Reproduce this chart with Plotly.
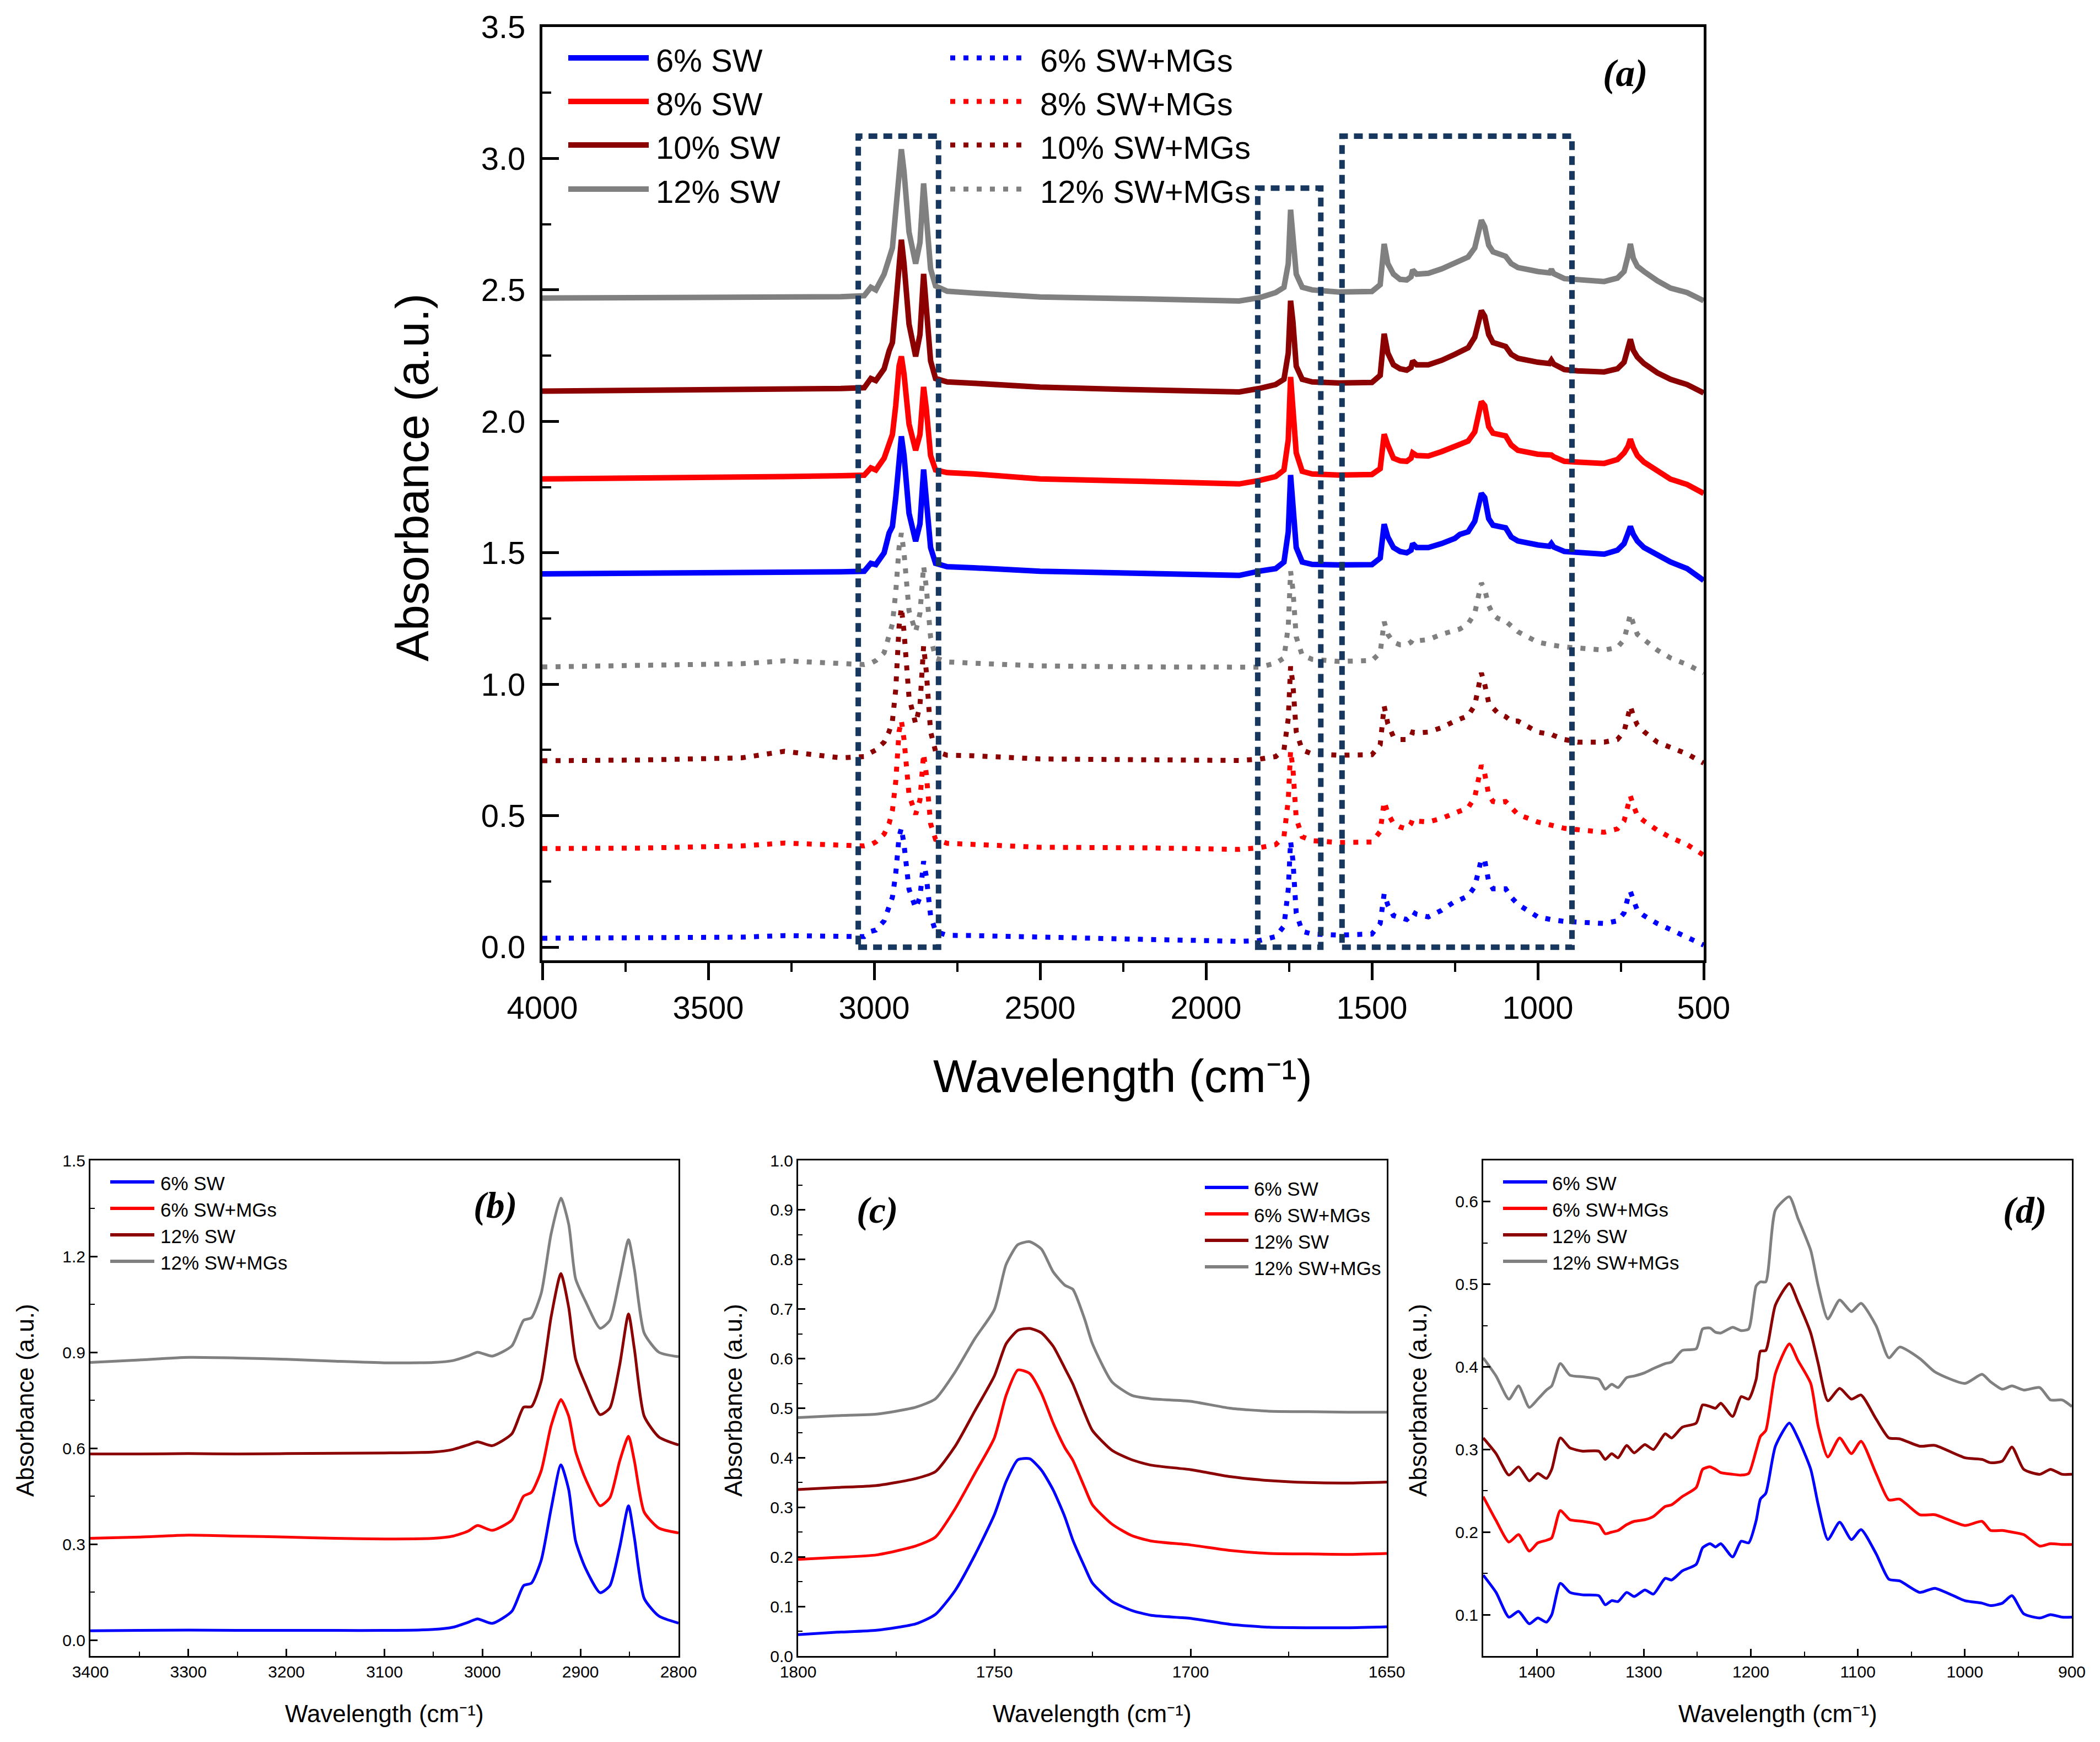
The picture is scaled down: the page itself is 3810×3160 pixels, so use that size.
import plotly.graph_objects as go

# ---------------- data: panel (a) full spectra ----------------
WN_A = [4000, 3700, 3400, 3270, 3100, 3030, 3010, 2995, 2970, 2955,
        2945, 2935, 2925, 2918, 2910, 2895, 2875, 2862, 2851, 2843,
        2830, 2815, 2780, 2700, 2500, 2200, 2000, 1900, 1840, 1790,
        1765, 1752, 1745, 1738, 1728, 1710, 1680, 1600, 1500, 1475,
        1463, 1452, 1435, 1415, 1395, 1382, 1377, 1365, 1330, 1290,
        1250, 1235, 1210, 1190, 1178, 1170, 1160, 1148, 1135, 1120,
        1097, 1080, 1060, 1000, 965, 959, 952, 920, 880, 800,
        760, 740, 728, 721, 712, 700, 680, 640, 600, 550,
        500]

SW12_A = [2.469, 2.470, 2.471, 2.473, 2.474, 2.478, 2.510, 2.500, 2.560, 2.620,
          2.660, 2.800, 2.980, 3.035, 2.950, 2.720, 2.600, 2.680, 2.905, 2.800,
          2.580, 2.515, 2.495, 2.488, 2.473, 2.466, 2.459, 2.458, 2.470, 2.490,
          2.510, 2.600, 2.805, 2.720, 2.560, 2.510, 2.500, 2.492, 2.494, 2.520,
          2.675, 2.600, 2.560, 2.540, 2.538, 2.550, 2.576, 2.560, 2.563, 2.580,
          2.605, 2.615, 2.625, 2.660, 2.730, 2.765, 2.740, 2.670, 2.645, 2.640,
          2.628, 2.600, 2.585, 2.570, 2.565, 2.578, 2.562, 2.543, 2.538, 2.532,
          2.545, 2.570, 2.630, 2.675, 2.620, 2.590, 2.570, 2.535, 2.507, 2.490,
          2.459]
SW10_A = [2.115, 2.117, 2.120, 2.122, 2.125, 2.128, 2.163, 2.155, 2.200, 2.268,
          2.300, 2.440, 2.630, 2.691, 2.600, 2.370, 2.247, 2.330, 2.561, 2.450,
          2.230, 2.163, 2.150, 2.145, 2.130, 2.120, 2.115, 2.112, 2.125, 2.140,
          2.160, 2.260, 2.459, 2.380, 2.210, 2.160, 2.150, 2.146, 2.148, 2.175,
          2.333, 2.260, 2.215, 2.200, 2.195, 2.205, 2.230, 2.215, 2.215, 2.232,
          2.255, 2.265, 2.280, 2.320, 2.390, 2.421, 2.400, 2.330, 2.300, 2.295,
          2.285, 2.255, 2.240, 2.225, 2.220, 2.232, 2.218, 2.197, 2.192, 2.188,
          2.200, 2.225, 2.280, 2.312, 2.270, 2.245, 2.220, 2.185, 2.160, 2.140,
          2.108]
SW8_A = [1.781, 1.783, 1.787, 1.790, 1.793, 1.795, 1.823, 1.815, 1.860, 1.920,
         1.950, 2.060, 2.210, 2.247, 2.180, 1.990, 1.890, 1.950, 2.131, 2.050,
         1.870, 1.815, 1.805, 1.800, 1.781, 1.772, 1.764, 1.762, 1.775, 1.790,
         1.815, 1.930, 2.169, 2.070, 1.880, 1.810, 1.800, 1.796, 1.798, 1.820,
         1.951, 1.910, 1.860, 1.850, 1.848, 1.860, 1.880, 1.870, 1.868, 1.885,
         1.905, 1.915, 1.925, 1.960, 2.040, 2.075, 2.060, 1.980, 1.955, 1.950,
         1.945, 1.910, 1.890, 1.875, 1.870, 1.872, 1.865, 1.848, 1.845, 1.840,
         1.855, 1.880, 1.905, 1.932, 1.900, 1.870, 1.845, 1.810, 1.780, 1.760,
         1.726]
SW6_A = [1.420, 1.421, 1.423, 1.425, 1.428, 1.430, 1.460, 1.455, 1.500, 1.575,
         1.600, 1.710, 1.890, 1.943, 1.870, 1.650, 1.544, 1.610, 1.817, 1.720,
         1.520, 1.460, 1.447, 1.443, 1.430, 1.422, 1.418, 1.414, 1.430, 1.440,
         1.465, 1.580, 1.796, 1.700, 1.520, 1.465, 1.456, 1.454, 1.455, 1.480,
         1.609, 1.560, 1.520, 1.505, 1.500, 1.510, 1.535, 1.520, 1.520, 1.535,
         1.555, 1.570, 1.580, 1.620, 1.690, 1.726, 1.710, 1.630, 1.605, 1.600,
         1.595, 1.560, 1.545, 1.530, 1.525, 1.535, 1.522, 1.505, 1.500, 1.495,
         1.510, 1.535, 1.575, 1.600, 1.570, 1.545, 1.520, 1.490, 1.465, 1.440,
         1.395]
MG12_A = [1.066, 1.070, 1.078, 1.089, 1.078, 1.075, 1.080, 1.090, 1.120, 1.180,
          1.230, 1.350, 1.520, 1.575, 1.500, 1.280, 1.200, 1.270, 1.450, 1.370,
          1.180, 1.100, 1.085, 1.080, 1.070, 1.066, 1.064, 1.062, 1.065, 1.080,
          1.100, 1.220, 1.430, 1.360, 1.180, 1.110, 1.095, 1.087, 1.090, 1.120,
          1.238, 1.190, 1.160, 1.150, 1.150, 1.160, 1.170, 1.165, 1.170, 1.190,
          1.205, 1.210, 1.230, 1.270, 1.340, 1.385, 1.360, 1.300, 1.265, 1.250,
          1.240, 1.220, 1.200, 1.160, 1.150, 1.150, 1.148, 1.142, 1.138, 1.130,
          1.140, 1.170, 1.230, 1.267, 1.230, 1.190, 1.170, 1.130, 1.100, 1.075,
          1.043]
MG10_A = [0.709, 0.712, 0.720, 0.745, 0.720, 0.725, 0.740, 0.750, 0.780, 0.820,
          0.860, 0.980, 1.220, 1.292, 1.200, 0.950, 0.850, 0.920, 1.145, 1.050,
          0.820, 0.745, 0.730, 0.728, 0.716, 0.712, 0.709, 0.710, 0.715, 0.725,
          0.750, 0.870, 1.068, 1.000, 0.820, 0.750, 0.735, 0.730, 0.732, 0.770,
          0.917, 0.850, 0.800, 0.790, 0.790, 0.800, 0.818, 0.815, 0.818, 0.835,
          0.860, 0.866, 0.880, 0.920, 1.000, 1.043, 1.000, 0.930, 0.910, 0.890,
          0.877, 0.860, 0.860, 0.818, 0.810, 0.810, 0.805, 0.790, 0.780, 0.780,
          0.790, 0.820, 0.880, 0.917, 0.880, 0.845, 0.820, 0.780, 0.760, 0.735,
          0.700]
MG8_A = [0.375, 0.377, 0.385, 0.396, 0.388, 0.385, 0.390, 0.400, 0.430, 0.470,
         0.520, 0.630, 0.820, 0.862, 0.790, 0.580, 0.505, 0.560, 0.736, 0.660,
         0.470, 0.410, 0.395, 0.390, 0.380, 0.378, 0.375, 0.372, 0.378, 0.390,
         0.420, 0.560, 0.747, 0.680, 0.490, 0.420, 0.405, 0.398, 0.400, 0.440,
         0.554, 0.510, 0.470, 0.457, 0.450, 0.470, 0.487, 0.480, 0.476, 0.490,
         0.510, 0.516, 0.530, 0.570, 0.650, 0.692, 0.660, 0.580, 0.554, 0.550,
         0.554, 0.530, 0.505, 0.476, 0.465, 0.465, 0.462, 0.452, 0.447, 0.437,
         0.450, 0.480, 0.540, 0.575, 0.540, 0.500, 0.480, 0.445, 0.417, 0.390,
         0.350]
MG6_A = [0.034, 0.035, 0.038, 0.044, 0.040, 0.040, 0.060, 0.065, 0.100, 0.150,
         0.190, 0.280, 0.420, 0.453, 0.390, 0.220, 0.149, 0.190, 0.327, 0.270,
         0.120, 0.060, 0.045, 0.044, 0.037, 0.030, 0.025, 0.022, 0.025, 0.040,
         0.080, 0.220, 0.403, 0.330, 0.130, 0.060, 0.050, 0.046, 0.050, 0.090,
         0.203, 0.160, 0.120, 0.110, 0.105, 0.120, 0.134, 0.125, 0.115, 0.140,
         0.174, 0.180, 0.195, 0.230, 0.300, 0.335, 0.330, 0.250, 0.222, 0.222,
         0.222, 0.190, 0.163, 0.115, 0.105, 0.105, 0.103, 0.098, 0.095, 0.090,
         0.100, 0.130, 0.190, 0.212, 0.180, 0.140, 0.120, 0.090, 0.067, 0.040,
         0.008]

# highlighted regions in panel (a)
BOX_X0 = [3048, 1844, 1590]
BOX_X1 = [2806, 1654, 897]
BOX_Y0 = [0.0, 0.0, 0.0]
BOX_Y1 = [3.085, 2.887, 3.085]

# ---------------- panel (b): C-H stretching ----------------
WN_B = [3400, 3350, 3300, 3250, 3200, 3150, 3100, 3050, 3030, 3015,
        3005, 2990, 2970, 2958, 2950, 2940, 2930, 2920, 2912, 2905,
        2895, 2880, 2870, 2860, 2851, 2845, 2835, 2820, 2800]
SW6_B = [0.029, 0.030, 0.031, 0.030, 0.030, 0.030, 0.030, 0.033, 0.040, 0.055,
         0.066, 0.052, 0.090, 0.170, 0.178, 0.250, 0.410, 0.548, 0.470, 0.310,
         0.225, 0.148, 0.170, 0.290, 0.420, 0.320, 0.130, 0.075, 0.053]
MG6_B = [0.318, 0.322, 0.328, 0.325, 0.322, 0.318, 0.316, 0.318, 0.325, 0.340,
         0.358, 0.343, 0.375, 0.450, 0.462, 0.530, 0.670, 0.752, 0.700, 0.590,
         0.505, 0.420, 0.445, 0.560, 0.637, 0.560, 0.400, 0.350, 0.335]
SW12_B = [0.582, 0.582, 0.583, 0.582, 0.583, 0.584, 0.585, 0.588, 0.596, 0.610,
          0.620, 0.608, 0.645, 0.728, 0.730, 0.810, 1.010, 1.146, 1.040, 0.880,
          0.800, 0.705, 0.726, 0.860, 1.020, 0.910, 0.700, 0.635, 0.610]
MG12_B = [0.868, 0.876, 0.884, 0.882, 0.878, 0.872, 0.867, 0.868, 0.874, 0.888,
          0.900, 0.888, 0.920, 1.000, 1.008, 1.085, 1.270, 1.382, 1.300, 1.130,
          1.060, 0.975, 1.000, 1.130, 1.252, 1.160, 0.960, 0.900, 0.886]

# ---------------- panel (c): C=O stretching ----------------
WN_C = [1800, 1790, 1780, 1770, 1765, 1760, 1755, 1750, 1747, 1744,
        1741, 1738, 1735, 1732, 1730, 1727, 1725, 1720, 1715, 1710,
        1700, 1690, 1680, 1670, 1660, 1650]
SW6_C = [0.043, 0.048, 0.052, 0.065, 0.084, 0.132, 0.203, 0.285, 0.352, 0.396,
         0.398, 0.375, 0.335, 0.280, 0.234, 0.180, 0.147, 0.110, 0.092, 0.082,
         0.076, 0.064, 0.058, 0.057, 0.057, 0.059]
MG6_C = [0.195, 0.199, 0.204, 0.222, 0.240, 0.297, 0.368, 0.440, 0.526, 0.577,
         0.570, 0.530, 0.470, 0.420, 0.395, 0.340, 0.305, 0.266, 0.243, 0.232,
         0.224, 0.213, 0.207, 0.206, 0.205, 0.207]
SW12_C = [0.336, 0.340, 0.344, 0.358, 0.372, 0.423, 0.494, 0.565, 0.630, 0.657,
          0.661, 0.652, 0.625, 0.580, 0.549, 0.490, 0.455, 0.415, 0.396, 0.385,
          0.376, 0.362, 0.354, 0.350, 0.349, 0.351]
MG12_C = [0.481, 0.485, 0.488, 0.502, 0.519, 0.573, 0.640, 0.699, 0.790, 0.830,
          0.836, 0.821, 0.775, 0.748, 0.740, 0.680, 0.630, 0.553, 0.526, 0.519,
          0.514, 0.500, 0.494, 0.493, 0.492, 0.492]

# ---------------- panel (d): fingerprint ----------------
WN_D = [1450, 1438, 1426, 1417, 1407, 1399, 1391, 1386, 1378, 1369,
        1357, 1342, 1336, 1330, 1324, 1316, 1309, 1299, 1291, 1280,
        1274, 1264, 1251, 1245, 1238, 1233, 1228, 1217, 1209, 1202,
        1195, 1191, 1186, 1177, 1164, 1156, 1144, 1137, 1128, 1117,
        1106, 1097, 1083, 1071, 1061, 1042, 1028, 1000, 984, 976,
        965, 956, 945, 930, 920, 909, 900]
SW6_D = [0.148, 0.127, 0.097, 0.104, 0.089, 0.096, 0.091, 0.100, 0.138, 0.127,
         0.124, 0.123, 0.112, 0.117, 0.116, 0.127, 0.122, 0.130, 0.125, 0.144,
         0.142, 0.153, 0.161, 0.181, 0.186, 0.182, 0.186, 0.170, 0.189, 0.187,
         0.214, 0.240, 0.247, 0.304, 0.332, 0.314, 0.276, 0.233, 0.191, 0.212,
         0.191, 0.203, 0.174, 0.143, 0.141, 0.127, 0.132, 0.117, 0.114, 0.111,
         0.114, 0.123, 0.101, 0.096, 0.100, 0.097, 0.097]
MG6_D = [0.243, 0.214, 0.188, 0.197, 0.177, 0.187, 0.190, 0.193, 0.226, 0.215,
         0.213, 0.209, 0.198, 0.200, 0.202, 0.209, 0.213, 0.215, 0.219, 0.231,
         0.233, 0.243, 0.254, 0.276, 0.279, 0.276, 0.272, 0.270, 0.269, 0.271,
         0.299, 0.316, 0.323, 0.392, 0.428, 0.408, 0.380, 0.328, 0.291, 0.314,
         0.295, 0.310, 0.271, 0.239, 0.240, 0.221, 0.221, 0.208, 0.213, 0.202,
         0.202, 0.200, 0.197, 0.183, 0.186, 0.185, 0.185]
SW12_D = [0.314, 0.295, 0.269, 0.279, 0.262, 0.271, 0.265, 0.276, 0.314, 0.302,
          0.298, 0.298, 0.288, 0.295, 0.290, 0.305, 0.296, 0.306, 0.300, 0.319,
          0.314, 0.327, 0.332, 0.354, 0.352, 0.350, 0.356, 0.340, 0.364, 0.361,
          0.385, 0.419, 0.420, 0.475, 0.501, 0.479, 0.441, 0.404, 0.359, 0.374,
          0.361, 0.366, 0.337, 0.314, 0.313, 0.304, 0.305, 0.290, 0.288, 0.284,
          0.286, 0.303, 0.276, 0.270, 0.276, 0.270, 0.270]
MG12_D = [0.411, 0.389, 0.361, 0.377, 0.351, 0.361, 0.372, 0.377, 0.404, 0.390,
          0.388, 0.385, 0.373, 0.379, 0.375, 0.387, 0.389, 0.393, 0.398, 0.404,
          0.406, 0.420, 0.422, 0.446, 0.447, 0.442, 0.441, 0.448, 0.444, 0.446,
          0.498, 0.503, 0.503, 0.590, 0.606, 0.580, 0.541, 0.498, 0.458, 0.481,
          0.467, 0.477, 0.450, 0.411, 0.424, 0.410, 0.394, 0.380, 0.391, 0.382,
          0.373, 0.377, 0.372, 0.375, 0.360, 0.360, 0.352]

LABELS_A_SOLID = ["6% SW", "8% SW", "10% SW", "12% SW"]
LABELS_A_DOT = ["6% SW+MGs", "8% SW+MGs", "10% SW+MGs", "12% SW+MGs"]
LABELS_SUB = ["6% SW", "6% SW+MGs", "12% SW", "12% SW+MGs"]
PANEL_TAGS = ["(a)", "(b)", "(c)", "(d)"]
X_TITLE = "Wavelength (cm\u207b\u00b9)"
Y_TITLE = "Absorbance (a.u.)"

# ---------------- styling ----------------
BLUE, RED, DRED, GRAY = "#0000FF", "#FF0000", "#8B0000", "#808080"
COL4 = [BLUE, RED, DRED, GRAY]
BOXCOL = "#17375E"
FONT = "Liberation Sans, Arial, sans-serif"
SERIF = "Liberation Serif, Times New Roman, serif"
DOTS = "9px,15px"

W_FIG, H_FIG, OFF = 3794, 3144, 8


def px(v):
    return (v - OFF) / W_FIG


def py(v):
    return 1 - (v - OFF) / H_FIG


fig = go.Figure()

solid_a = [SW6_A, SW8_A, SW10_A, SW12_A]
dot_a = [MG6_A, MG8_A, MG10_A, MG12_A]
for lab, ys, c in zip(LABELS_A_DOT[::-1], dot_a[::-1], COL4[::-1]):
    fig.add_trace(go.Scatter(x=WN_A, y=ys, name=lab, mode="lines", showlegend=False,
                             line=dict(color=c, width=9, dash=DOTS), xaxis="x", yaxis="y"))
for lab, ys, c in zip(LABELS_A_SOLID[::-1], solid_a[::-1], COL4[::-1]):
    fig.add_trace(go.Scatter(x=WN_A, y=ys, name=lab, mode="lines", showlegend=False,
                             line=dict(color=c, width=10), xaxis="x", yaxis="y"))

subsets = [
    (WN_B, [SW6_B, MG6_B, SW12_B, MG12_B], "x2", "y2"),
    (WN_C, [SW6_C, MG6_C, SW12_C, MG12_C], "x3", "y3"),
    (WN_D, [SW6_D, MG6_D, SW12_D, MG12_D], "x4", "y4"),
]
for wn, series, xa, ya in subsets:
    for lab, ys, c in zip(LABELS_SUB, series, COL4):
        fig.add_trace(go.Scatter(x=wn, y=ys, name=lab, mode="lines", showlegend=False,
                                 line=dict(color=c, width=5, shape="spline", smoothing=0.6),
                                 xaxis=xa, yaxis=ya))


# ---------------- axes ----------------
def axis_common(size, lw):
    return dict(showgrid=False, zeroline=False, showline=True, linecolor="black",
                linewidth=lw, mirror=True, tickcolor="black", automargin=False,
                tickfont=dict(family=FONT, size=size, color="black"))


def minor(dt, ticks, ln, w):
    return dict(dtick=dt, ticks=ticks, ticklen=ln, tickwidth=w, tickcolor="black", showgrid=False)


fig.update_layout(
    xaxis=dict(domain=[px(984), px(3091)], range=[4000, 500], anchor="y",
               tick0=500, dtick=500, ticks="outside", ticklen=31, tickwidth=5,
               minor=minor(250, "outside", 16, 4), **axis_common(58, 5)),
    yaxis=dict(domain=[py(1742), py(49)], range=[-0.05, 3.5], anchor="x",
               tick0=0, dtick=0.5, tickformat=".1f", ticks="inside", ticklen=30, tickwidth=5,
               ticklabelstandoff=14,
               minor=minor(0.25, "inside", 16, 4), **axis_common(58, 5)),
    xaxis2=dict(domain=[px(164), px(1231)], range=[3400, 2800], anchor="y2",
                tick0=2800, dtick=100, ticks="inside", ticklen=13, tickwidth=3,
                minor=minor(50, "inside", 8, 2), **axis_common(30, 3)),
    yaxis2=dict(domain=[py(3004), py(2105)], range=[-0.05, 1.5], anchor="x2",
                tick0=0, dtick=0.3, tickformat=".1f", ticks="inside", ticklen=13, tickwidth=3,
                minor=minor(0.15, "inside", 8, 2), **axis_common(30, 3)),
    xaxis3=dict(domain=[px(1448), px(2516)], range=[1800, 1650], anchor="y3",
                tick0=1650, dtick=50, ticks="inside", ticklen=13, tickwidth=3,
                minor=minor(25, "inside", 8, 2), **axis_common(30, 3)),
    yaxis3=dict(domain=[py(3004), py(2105)], range=[0, 1.0], anchor="x3",
                tick0=0, dtick=0.1, tickformat=".1f", ticks="inside", ticklen=13, tickwidth=3,
                minor=minor(0.05, "inside", 8, 2), **axis_common(30, 3)),
    xaxis4=dict(domain=[px(2691), px(3759)], range=[1450, 900], anchor="y4",
                tick0=900, dtick=100, ticks="inside", ticklen=13, tickwidth=3,
                minor=minor(50, "inside", 8, 2), **axis_common(30, 3)),
    yaxis4=dict(domain=[py(3004), py(2105)], range=[0.05, 0.65], anchor="x4",
                tick0=0, dtick=0.1, tickformat=".1f", ticks="inside", ticklen=13, tickwidth=3,
                minor=minor(0.05, "inside", 8, 2), **axis_common(30, 3)),
)

# ---------------- highlight boxes ----------------
shapes = []
for x0, x1, y0, y1 in zip(BOX_X0, BOX_X1, BOX_Y0, BOX_Y1):
    shapes.append(dict(type="rect", xref="x", yref="y", x0=x0, x1=x1, y0=y0, y1=y1,
                       line=dict(color=BOXCOL, width=10, dash="16px,11px"),
                       fillcolor="rgba(0,0,0,0)", layer="above"))

annotations = []


def legend_entry(x0, x1, y, label, color, width, dash, tx, size):
    shapes.append(dict(type="line", xref="paper", yref="paper", x0=px(x0), x1=px(x1),
                       y0=py(y), y1=py(y), line=dict(color=color, width=width, dash=dash)))
    annotations.append(dict(xref="paper", yref="paper", x=px(tx), y=py(y + size * 0.08),
                            text=label, showarrow=False, xanchor="left", yanchor="middle",
                            font=dict(family=FONT, size=size, color="black")))


ROWS_A = [105, 184, 263, 343]
for lab, c, yy in zip(LABELS_A_SOLID, COL4, ROWS_A):
    legend_entry(1031, 1177, yy, lab, c, 10, "solid", 1188, 58)
for lab, c, yy in zip(LABELS_A_DOT, COL4, ROWS_A):
    legend_entry(1724, 1854, yy, lab, c, 9, DOTS, 1885, 58)

ROWS_B = [2144, 2192, 2240, 2288]
ROWS_C = [2154, 2202, 2250, 2298]
for lab, c, yb, yc in zip(LABELS_SUB, COL4, ROWS_B, ROWS_C):
    legend_entry(200, 280, yb, lab, c, 6, "solid", 289, 35)
    legend_entry(2186, 2265, yc, lab, c, 6, "solid", 2273, 35)
    legend_entry(2727, 2807, yb, lab, c, 6, "solid", 2814, 35)


def text(x, y, t, size, angle=0, family=FONT, weight="normal", style="normal"):
    annotations.append(dict(xref="paper", yref="paper", x=px(x), y=py(y), text=t,
                            showarrow=False, xanchor="center", yanchor="middle",
                            textangle=angle,
                            font=dict(family=family, size=size, color="black",
                                      weight=weight, style=style)))


text(2037, 1952, X_TITLE, 84)
text(748, 866, Y_TITLE, 84, angle=-90)
for cx in [697, 1982, 3225]:
    text(cx, 3108, X_TITLE, 44)
for cx in [45, 1330, 2572]:
    text(cx, 2540, Y_TITLE, 44, angle=-90)

for tag, (cx, cy, sz) in zip(PANEL_TAGS, [(2949, 133, 70), (898, 2186, 68),
                                          (1591, 2195, 68), (3673, 2195, 68)]):
    text(cx, cy, tag, sz, family=SERIF, weight="bold", style="italic")

fig.update_layout(
    width=W_FIG, height=H_FIG, margin=dict(l=0, r=0, t=0, b=0, autoexpand=False),
    paper_bgcolor="white", plot_bgcolor="white", showlegend=False,
    shapes=shapes, annotations=annotations,
    font=dict(family=FONT, color="black"),
)

fig.write_html("out.html")
